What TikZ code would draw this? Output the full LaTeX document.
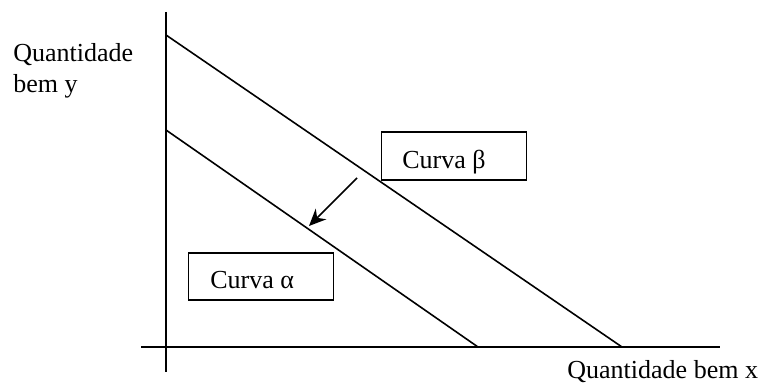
\documentclass[tikz,border=0pt]{standalone}
\usepackage{fontspec}
\setmainfont{Liberation Serif}
\usetikzlibrary{arrows.meta}
\begin{document}
\begin{tikzpicture}[x=0.5pt,y=-0.5pt,
  ln/.style={line width=0.8pt},
  lbl/.style={font=\fontsize{13}{15}\selectfont, inner sep=0pt, anchor=base west},
  boxn/.style={draw, line width=0.8pt, minimum width=72.5pt, minimum height=24pt, inner sep=0pt}]
\useasboundingbox (0,0) rectangle (765,385);
% axes
\coordinate (ytop) at (166,12);
\coordinate (ybot) at (166,372);
\coordinate (xl) at (141,347);
\coordinate (xr) at (720,347);
\draw[ln] (ytop) -- (ybot);
\draw[ln] (xl) -- (xr);
% curves
\coordinate (b1) at (166,35);
\coordinate (b2) at (622,347);
\coordinate (a1) at (166,130);
\coordinate (a2) at (478,347);
\draw[ln] (b1) -- (b2);
\draw[ln] (a1) -- (a2);
% boxes
\node[boxn] (boxb) at (454,156) {};
\node[boxn, minimum height=23.5pt] (boxa) at (261,276.5) {};
\node[lbl] (tb) at (402,168) {Curva β};
\node[lbl] (ta) at (210,288) {Curva α};
% arrow
\coordinate (ar1) at (357,178);
\coordinate (ar2) at (309,226);
\draw[ln,-{Stealth[length=8.5pt,width=7.5pt]}] (ar1) -- (ar2);
% axis labels
\node[lbl] (qy1) at (13,62) {Quantidade};
\node[lbl] (qy2) at (13,93) {bem y};
\node[lbl] (qx) at (567,378) {Quantidade bem x};
\end{tikzpicture}
\end{document}
